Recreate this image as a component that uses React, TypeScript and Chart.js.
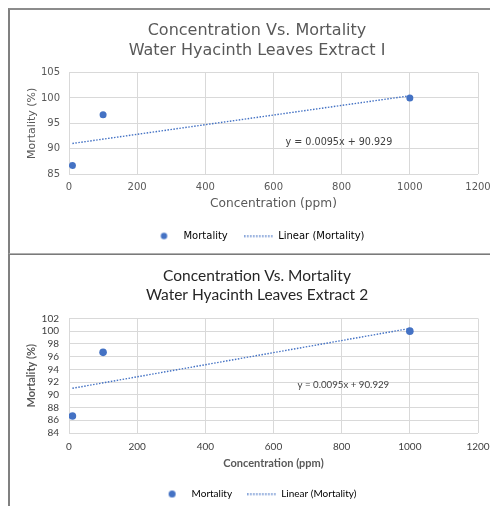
import React, { useEffect, useRef } from 'react';
import { Chart, registerables } from 'chart.js';

Chart.register(...registerables);

// ---------- data ----------
const concentration1 = [10, 100, 1000];
const mortality1 = [86.67, 96.67, 100];
const concentration2 = [10, 100, 1000];
const mortality2 = [86.67, 96.67, 100];

const trendSlope1 = 0.0095;
const trendIntercept1 = 90.929;
const trendSlope2 = 0.0095;
const trendIntercept2 = 90.929;
const trendFromTo = [10, 1000];

const titleLines1 = ['Concentration Vs. Mortality', 'Water Hyacinth Leaves Extract I'];
const titleLines2 = ['Concentration Vs. Mortality', 'Water Hyacinth Leaves Extract 2'];
const equationText1 = 'y = 0.0095x + 90.929';
const equationText2 = 'y = 0.0095x + 90.929';
const equationAt1 = [792, 91.3];
const equationAt2 = [805, 91.6];

const xAxisRange = [0, 1200, 200];
const yAxisRange1 = [85, 105, 5];
const yAxisRange2 = [84, 102, 2];

const xAxisTitle = 'Concentration (ppm)';
const yAxisTitle = 'Mortality (%)';
const seriesLabels = ['Mortality', 'Linear (Mortality)'];

const BLUE = '#4472C4';

type Style = {
  family: string;
  titleSize: number;
  titleWeight: string;
  titleLH: number;
  titlePad: { top: number; bottom: number };
  titleColor: string;
  tickSize: number;
  tickColor: string;
  yTickPad: number;
  xTickPad: number;
  axisTitleSize: number;
  xAxisTitleSize: number;
  axisTitleWeight: string;
  yTitlePad: number;
  xTitlePad: number;
  xHeight: number;
  legendSize: number;
  eqSize: number;
  pointRadius: number;
};

function makeDot(r: number) {
  const c = document.createElement('canvas');
  const s = Math.ceil(r * 2 + 2);
  c.width = s;
  c.height = s;
  const g = c.getContext('2d')!;
  g.fillStyle = BLUE;
  g.beginPath();
  g.arc(s / 2, s / 2, r, 0, Math.PI * 2);
  g.fill();
  return c;
}

function makeDotted(w: number) {
  const c = document.createElement('canvas');
  c.width = w;
  c.height = 3;
  const g = c.getContext('2d')!;
  g.strokeStyle = BLUE;
  g.lineWidth = 1.3;
  g.setLineDash([1.5, 1.5]);
  g.beginPath();
  g.moveTo(0, 1.5);
  g.lineTo(w, 1.5);
  g.stroke();
  return c;
}

function buildConfig(
  xs: number[],
  ys: number[],
  slope: number,
  intercept: number,
  title: string[],
  yRange: number[],
  eqText: string,
  eqAt: number[],
  st: Style
): any {
  const trend = trendFromTo.map((x) => ({ x, y: slope * x + intercept }));
  const font = (size: number, weight = 'normal', lineHeight = 1.2) => ({ family: st.family, size, weight, lineHeight });
  const dot = makeDot(st.pointRadius - 0.3);
  const line = makeDotted(29);

  const equationPlugin = {
    id: 'equation',
    afterDatasetsDraw(chart: any) {
      const { ctx, scales } = chart;
      const px = scales.x.getPixelForValue(eqAt[0]);
      const py = scales.y.getPixelForValue(eqAt[1]);
      ctx.save();
      ctx.font = `${st.eqSize}px "${st.family}"`;
      ctx.fillStyle = '#404040';
      ctx.textAlign = 'center';
      ctx.textBaseline = 'middle';
      ctx.fillText(eqText, px, py);
      ctx.restore();
    },
  };

  return {
    type: 'scatter',
    data: {
      datasets: [
        {
          label: seriesLabels[0],
          data: xs.map((x, i) => ({ x, y: ys[i] })),
          backgroundColor: BLUE,
          borderColor: BLUE,
          pointRadius: st.pointRadius,
          pointHoverRadius: st.pointRadius,
          pointBorderWidth: 0,
          showLine: false,
          order: 1,
        },
        {
          label: seriesLabels[1],
          type: 'line',
          data: trend,
          borderColor: BLUE,
          borderWidth: 1.4,
          borderDash: [1.5, 1.5],
          pointRadius: 0,
          fill: false,
          order: 2,
        },
      ],
    },
    options: {
      responsive: false,
      animation: false,
      layout: { padding: { left: 0, right: 0, top: 0, bottom: 0 } },
      plugins: {
        tooltip: { enabled: false },
        title: {
          display: true,
          text: title,
          color: st.titleColor,
          font: font(st.titleSize, st.titleWeight, st.titleLH),
          padding: st.titlePad,
        },
        legend: {
          display: true,
          position: 'bottom',
          labels: {
            usePointStyle: true,
            pointStyleWidth: 29,
            padding: 10,
            color: '#595959',
            font: font(st.legendSize),
            generateLabels: () => [
              { text: seriesLabels[0] + '  ', pointStyle: dot, fillStyle: BLUE, strokeStyle: BLUE, lineWidth: 0, hidden: false, datasetIndex: 0 },
              { text: seriesLabels[1], pointStyle: line, fillStyle: BLUE, strokeStyle: BLUE, lineWidth: 0, hidden: false, datasetIndex: 1 },
            ],
          },
        },
      },
      scales: {
        x: {
          type: 'linear',
          min: xAxisRange[0],
          max: xAxisRange[1],
          ticks: {
            stepSize: xAxisRange[2],
            color: st.tickColor,
            font: font(st.tickSize),
            padding: st.xTickPad,
            maxRotation: 0,
            autoSkip: false,
            callback: (v: any) => String(v),
          },
          grid: { color: '#d9d9d9', drawTicks: false },
          border: { display: false },
          title: {
            display: true,
            text: xAxisTitle,
            color: '#595959',
            font: font(st.xAxisTitleSize, st.axisTitleWeight),
            padding: { top: 0, bottom: st.xTitlePad },
          },
          afterFit: (s: any) => {
            s.height = st.xHeight;
            s.paddingRight = 26;
          },
        },
        y: {
          type: 'linear',
          min: yRange[0],
          max: yRange[1],
          ticks: {
            stepSize: yRange[2],
            color: st.tickColor,
            font: font(st.tickSize),
            padding: st.yTickPad,
            autoSkip: false,
            callback: (v: any) => String(v),
          },
          grid: { color: '#d9d9d9', drawTicks: false },
          border: { display: false },
          title: {
            display: true,
            text: yAxisTitle,
            color: '#595959',
            font: font(st.axisTitleSize, st.axisTitleWeight),
            padding: { top: st.yTitlePad, bottom: 0 },
          },
          afterFit: (s: any) => {
            s.width = 59;
          },
        },
      },
    },
    plugins: [equationPlugin],
  };
}

const style1: Style = {
  family: 'DejaVu Sans',
  titleSize: 16,
  titleWeight: 'normal',
  titleLH: 1.3,
  titlePad: { top: 10, bottom: 11 },
  titleColor: '#595959',
  tickSize: 10,
  tickColor: '#595959',
  yTickPad: 9,
  xTickPad: 7,
  axisTitleSize: 11,
  xAxisTitleSize: 12.2,
  axisTitleWeight: 'normal',
  yTitlePad: 16,
  xTitlePad: 10,
  xHeight: 47,
  legendSize: 10,
  eqSize: 9.6,
  pointRadius: 3.5,
};

const style2: Style = {
  family: 'Lato',
  titleSize: 15.5,
  titleWeight: 'normal',
  titleLH: 1.24,
  titlePad: { top: 12, bottom: 14 },
  titleColor: '#262626',
  tickSize: 10,
  tickColor: '#404040',
  yTickPad: 10,
  xTickPad: 8,
  axisTitleSize: 11,
  xAxisTitleSize: 11,
  axisTitleWeight: 'bold',
  yTitlePad: 15,
  xTitlePad: 9,
  xHeight: 46,
  legendSize: 10,
  eqSize: 9.7,
  pointRadius: 3.8,
};

function Panel(props: { config: () => any; width: number; height: number; left: number; top: number }) {
  const ref = useRef<HTMLCanvasElement | null>(null);
  useEffect(() => {
    if (!ref.current) return;
    const chart = new Chart(ref.current, props.config());
    return () => chart.destroy();
  }, []);
  return (
    <canvas
      ref={ref}
      width={props.width}
      height={props.height}
      style={{ position: 'absolute', left: props.left, top: props.top, width: props.width, height: props.height }}
    />
  );
}

export default function App() {
  return (
    <div style={{ position: 'fixed', left: 0, top: 0, width: 490, height: 506, overflow: 'hidden', background: '#fff' }}>
      <div
        style={{
          position: 'absolute',
          left: 8,
          top: 8,
          width: 500,
          height: 243,
          borderLeft: '2px solid #808080',
          borderTop: '2px solid #8c8c8c',
          borderBottom: '2px solid #7a7a7a',
        }}
      />
      <div
        style={{
          position: 'absolute',
          left: 8,
          top: 253,
          width: 500,
          height: 260,
          borderLeft: '2px solid #808080',
          borderTop: '1px solid #b0b0b0',
        }}
      />
      <Panel
        left={10}
        top={10}
        width={494}
        height={241}
        config={() =>
          buildConfig(concentration1, mortality1, trendSlope1, trendIntercept1, titleLines1, yAxisRange1, equationText1, equationAt1, style1)
        }
      />
      <Panel
        left={10}
        top={254}
        width={494}
        height={255}
        config={() =>
          buildConfig(concentration2, mortality2, trendSlope2, trendIntercept2, titleLines2, yAxisRange2, equationText2, equationAt2, style2)
        }
      />
    </div>
  );
}
